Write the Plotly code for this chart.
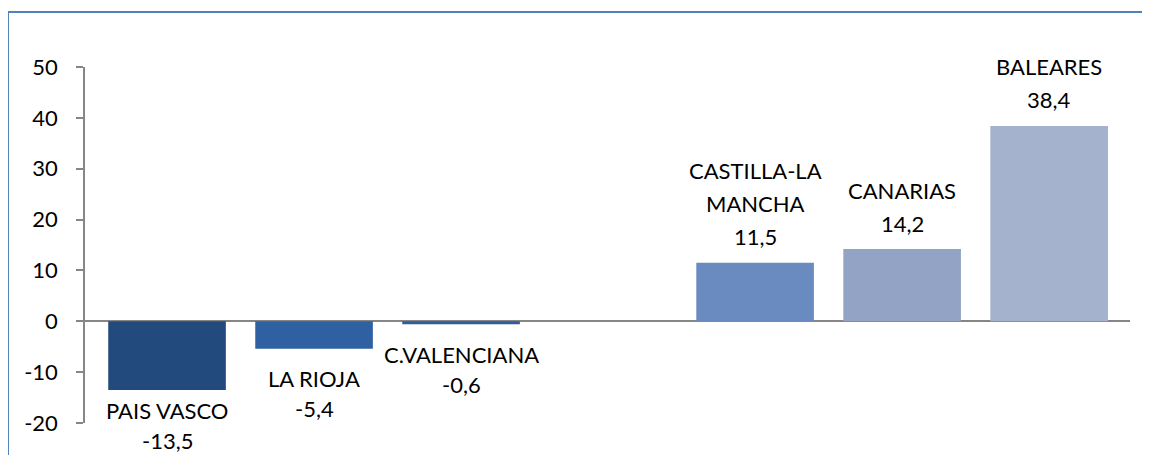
import plotly.graph_objects as go

# ---- data ----
categories = ["PAIS VASCO", "LA RIOJA", "C.VALENCIANA", "", "CASTILLA-LA MANCHA", "CANARIAS", "BALEARES"]
values = [-13.5, -5.4, -0.6, None, 11.5, 14.2, 38.4]
y_ticks = [-20, -10, 0, 10, 20, 30, 40, 50]

# ---- style ----
bar_colors = ["#234A7D", "#2F60A2", "#2E5E9E", "#FFFFFF", "#6A8BC0", "#92A3C6", "#A5B2CD"]
label_breaks = {"CASTILLA-LA MANCHA": ["CASTILLA-LA", "MANCHA"]}
label_nudge = [9, 0, 0, 0, 0, 0, 0]  # px upward nudge for labels
FONT = "Lato"
FS = 22
AXIS = "#868686"
BODY = 8  # default page body margin in px
FRAME = "#4F81BD"

xs = list(range(len(categories)))

fig = go.Figure()
fig.add_trace(go.Bar(
    x=xs, y=values, width=0.8,
    marker=dict(color=bar_colors, line=dict(width=0)),
    hoverinfo="skip", showlegend=False,
))

def fmt(v):
    return f"{v:.1f}".replace(".", ",")

annotations = []
for i, (c, v) in enumerate(zip(categories, values)):
    if v is None:
        continue
    name_lines = label_breaks.get(c, [c])
    n = label_nudge[i]
    lines = name_lines + [fmt(v)]
    if v >= 0:
        shifts = [26 + 33 * k for k in range(len(lines))][::-1]
    else:
        shifts = [-30 - 30 * k for k in range(len(lines))]
    for t, s in zip(lines, shifts):
        annotations.append(dict(x=i, y=v, text=t, showarrow=False, yanchor="middle",
                                xanchor="center", yshift=s + n))

fig.update_layout(
    width=1150 - BODY, height=455 - BODY,
    margin=dict(l=85 - BODY, r=20, t=67 - BODY, b=32, pad=0),
    paper_bgcolor="white", plot_bgcolor="white",
    font=dict(family=FONT, size=FS, color="black"),
    annotations=annotations,
    bargap=0.2,
    xaxis=dict(range=[-0.558, 6.55], showgrid=False, zeroline=False, showticklabels=False,
               showline=False, ticks="", fixedrange=True),
    yaxis=dict(range=[-20, 50], tickvals=y_ticks, ticktext=[str(t) for t in y_ticks],
               ticks="outside", ticklen=7,
               tickcolor=AXIS, tickwidth=1.5, showline=True, linecolor=AXIS, linewidth=1.5,
               zeroline=True, zerolinecolor=AXIS, zerolinewidth=1.5, showgrid=False,
               ticklabelstandoff=14, tickfont=dict(family=FONT, size=FS, color="black"),
               fixedrange=True),
    shapes=[
        dict(type="line", xref="paper", yref="paper", x0=-0.0737, x1=1.05, y0=1.1545, y1=1.1545,
             line=dict(color=FRAME, width=2), layer="below"),
        dict(type="line", xref="paper", yref="paper", x0=-0.0737, x1=-0.0737, y0=-0.2, y1=1.1545,
             line=dict(color=FRAME, width=2), layer="below"),
    ],
)

fig.write_html("out.html", config={"displayModeBar": False})
